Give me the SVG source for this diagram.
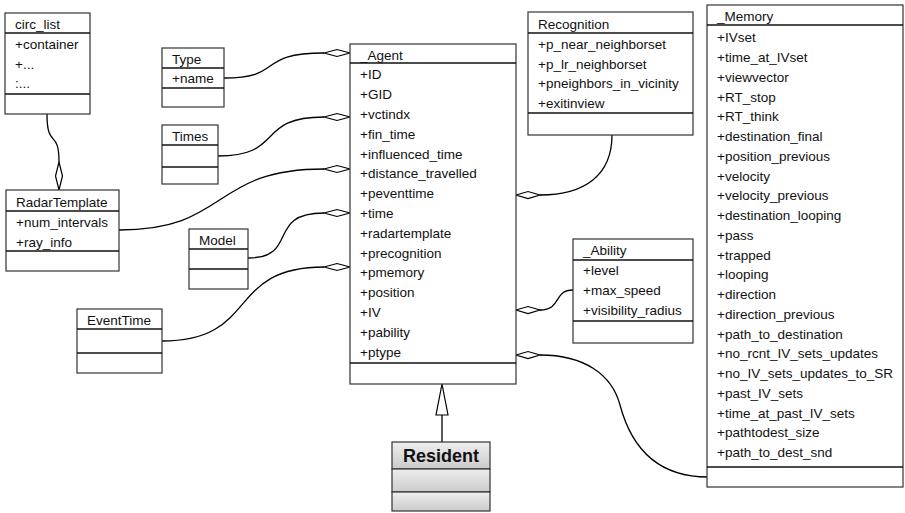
<svg xmlns="http://www.w3.org/2000/svg" width="905" height="513" viewBox="0 0 905 513">
<defs>
<linearGradient id="g" x1="0" y1="0" x2="0" y2="1">
<stop offset="0" stop-color="#eeeeee"/>
<stop offset="1" stop-color="#cbcbcb"/>
</linearGradient>
</defs>
<style>
.box{fill:#fff;stroke:#333;stroke-width:1.2}
.sep{stroke:#111;stroke-width:1.6}
text{font-family:"Liberation Sans",Arial,sans-serif;font-size:13.5px;fill:#111}
.con{fill:none;stroke:#000;stroke-width:1.3}
.dia{fill:#fff;stroke:#000;stroke-width:1.2}
.res{fill:url(#g);stroke:#333;stroke-width:1.2}
.bold{font-weight:bold;font-size:18px}
</style>
<rect width="905" height="513" fill="#fff"/>

<g id="connectors">
<path class="con" d="M47,114 C47,150 59,128 59,162"/>
<polygon class="dia" points="59,162 62.5,176 59,190 55.5,176"/>
<path class="con" d="M224,78 C285,78 255,53 324,53"/>
<polygon class="dia" points="324,53 337,49.5 350,53 337,56.5"/>
<path class="con" d="M218,156 C285,156 255,117 324,117"/>
<polygon class="dia" points="324,117 337,113.5 350,117 337,120.5"/>
<path class="con" d="M119,230 C230,230 210,169 324,169"/>
<polygon class="dia" points="324,169 337,165.5 350,169 337,172.5"/>
<path class="con" d="M248,258 C300,258 265,213 324,213"/>
<polygon class="dia" points="324,213 337,209.5 350,213 337,216.5"/>
<path class="con" d="M162,341 C260,341 225,267 324,267"/>
<polygon class="dia" points="324,267 337,263.5 350,267 337,270.5"/>
<path class="con" d="M612,135 C612,175 585,195 540,195"/>
<polygon class="dia" points="516,195 528,191.5 540,195 528,198.5"/>
<path class="con" d="M540,310 C562,310 553,290 573,290"/>
<polygon class="dia" points="516,310 528,306.5 540,310 528,313.5"/>
<path class="con" d="M540,355 C585,355 612,375 620,405 C632,450 660,477 708,477"/>
<polygon class="dia" points="516,355 528,351.5 540,355 528,358.5"/>
<line class="con" x1="442" y1="415" x2="442" y2="442"/>
<polygon class="dia" points="442,384 436,415 448,415"/>
</g>

<g id="circ_list">
<rect class="box" x="5" y="13" width="85" height="101"/>
<line class="sep" x1="5" y1="33" x2="90" y2="33"/>
<line class="sep" x1="5" y1="94" x2="90" y2="94"/>
<text x="15" y="29">circ_list</text>
<text x="15" y="49">+container</text>
<text x="15" y="68.5">+...</text>
<text x="15" y="88">:...</text>
</g>

<g id="Type">
<rect class="box" x="162" y="48" width="62" height="59"/>
<line class="sep" x1="162" y1="68" x2="224" y2="68"/>
<line class="sep" x1="162" y1="88" x2="224" y2="88"/>
<text x="172" y="64">Type</text>
<text x="172" y="83">+name</text>
</g>

<g id="Times">
<rect class="box" x="162" y="125" width="56" height="59"/>
<line class="sep" x1="162" y1="145" x2="218" y2="145"/>
<line class="sep" x1="162" y1="167" x2="218" y2="167"/>
<text x="172" y="141">Times</text>
</g>

<g id="RadarTemplate">
<rect class="box" x="6" y="190" width="113" height="81"/>
<line class="sep" x1="6" y1="211" x2="119" y2="211"/>
<line class="sep" x1="6" y1="251" x2="119" y2="251"/>
<text x="16" y="206.5">RadarTemplate</text>
<text x="16" y="226.5">+num_intervals</text>
<text x="16" y="246.5">+ray_info</text>
</g>

<g id="Model">
<rect class="box" x="189" y="229" width="59" height="60"/>
<line class="sep" x1="189" y1="249" x2="248" y2="249"/>
<line class="sep" x1="189" y1="269" x2="248" y2="269"/>
<text x="199" y="244.5">Model</text>
</g>

<g id="EventTime">
<rect class="box" x="77" y="309" width="85" height="64"/>
<line class="sep" x1="77" y1="329" x2="162" y2="329"/>
<line class="sep" x1="77" y1="353" x2="162" y2="353"/>
<text x="87" y="324.5">EventTime</text>
</g>

<g id="Agent">
<rect class="box" x="350" y="44" width="166" height="340"/>
<line class="sep" x1="350" y1="63" x2="516" y2="63"/>
<line class="sep" x1="350" y1="363" x2="516" y2="363"/>
<text x="360" y="60">_Agent</text>
<text x="360" y="79.3">+ID</text>
<text x="360" y="99.1">+GID</text>
<text x="360" y="118.9">+vctindx</text>
<text x="360" y="138.7">+fin_time</text>
<text x="360" y="158.5">+influenced_time</text>
<text x="360" y="178.3">+distance_travelled</text>
<text x="360" y="198.1">+peventtime</text>
<text x="360" y="217.9">+time</text>
<text x="360" y="237.8">+radartemplate</text>
<text x="360" y="257.6">+precognition</text>
<text x="360" y="277.4">+pmemory</text>
<text x="360" y="297.2">+position</text>
<text x="360" y="317">+IV</text>
<text x="360" y="336.8">+pability</text>
<text x="360" y="356.6">+ptype</text>
</g>

<g id="Recognition">
<rect class="box" x="528" y="12" width="165" height="123"/>
<line class="sep" x1="528" y1="33" x2="693" y2="33"/>
<line class="sep" x1="528" y1="113" x2="693" y2="113"/>
<text x="538" y="29">Recognition</text>
<text x="538" y="48.7">+p_near_neighborset</text>
<text x="538" y="68.5">+p_lr_neighborset</text>
<text x="538" y="88.3">+pneighbors_in_vicinity</text>
<text x="538" y="108.2">+exitinview</text>
</g>

<g id="Ability">
<rect class="box" x="573" y="239" width="120" height="104"/>
<line class="sep" x1="573" y1="260" x2="693" y2="260"/>
<line class="sep" x1="573" y1="321" x2="693" y2="321"/>
<text x="583" y="255">_Ability</text>
<text x="583" y="275">+level</text>
<text x="583" y="295">+max_speed</text>
<text x="583" y="315">+visibility_radius</text>
</g>

<g id="Memory">
<rect class="box" x="707" y="5" width="196" height="482"/>
<line class="sep" x1="707" y1="25" x2="903" y2="25"/>
<line class="sep" x1="707" y1="467" x2="903" y2="467"/>
<text x="717" y="21">_Memory</text>
<text x="717" y="42.3">+IVset</text>
<text x="717" y="62">+time_at_IVset</text>
<text x="717" y="81.8">+viewvector</text>
<text x="717" y="101.5">+RT_stop</text>
<text x="717" y="121.3">+RT_think</text>
<text x="717" y="141">+destination_final</text>
<text x="717" y="160.8">+position_previous</text>
<text x="717" y="180.5">+velocity</text>
<text x="717" y="200.3">+velocity_previous</text>
<text x="717" y="220">+destination_looping</text>
<text x="717" y="239.8">+pass</text>
<text x="717" y="259.5">+trapped</text>
<text x="717" y="279.3">+looping</text>
<text x="717" y="299">+direction</text>
<text x="717" y="318.8">+direction_previous</text>
<text x="717" y="338.5">+path_to_destination</text>
<text x="717" y="358.3">+no_rcnt_IV_sets_updates</text>
<text x="717" y="378">+no_IV_sets_updates_to_SR</text>
<text x="717" y="397.8">+past_IV_sets</text>
<text x="717" y="417.5">+time_at_past_IV_sets</text>
<text x="717" y="437.3">+pathtodest_size</text>
<text x="717" y="457">+path_to_dest_snd</text>
</g>

<g id="Resident">
<rect class="res" x="392" y="442" width="98" height="27"/>
<rect class="res" x="392" y="469" width="98" height="23"/>
<rect class="res" x="392" y="492" width="98" height="19"/>
<text class="bold" x="441" y="462" text-anchor="middle">Resident</text>
</g>
</svg>
